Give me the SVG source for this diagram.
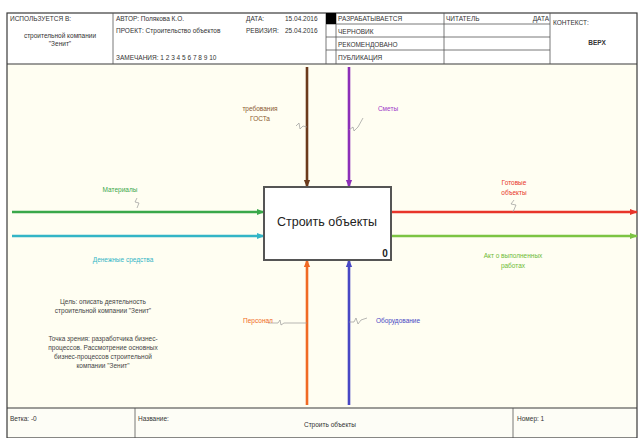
<svg xmlns="http://www.w3.org/2000/svg" width="638" height="438" viewBox="0 0 638 438">
  <style>
    .frame { fill: none; stroke: #3a3a3a; stroke-width: 1.2; }
    .thin { stroke: #555; stroke-width: 0.8; }
    .hdr { font-family: "Liberation Sans", Arial, sans-serif; font-size: 6.5px; fill: #333; }
    .lbl { font-family: "Liberation Sans", Arial, sans-serif; font-size: 6.5px; }
    .note { font-family: "Liberation Sans", Arial, sans-serif; font-size: 6.5px; fill: #444; text-anchor: middle; }
    .arr { fill: none; stroke-width: 2.6; }
    .tick { fill: none; stroke: #999; stroke-width: 0.7; }
  </style>
  <defs>
    <marker id="ah" viewBox="0 0 10 10" refX="9" refY="5" markerWidth="3" markerHeight="3" orient="auto" markerUnits="strokeWidth">
      <path d="M0,1 L10,5 L0,9 z" fill="context-stroke"/>
    </marker>
  </defs>

  <rect width="638" height="438" fill="#ffffff"/>
  <!-- drawing field -->
  <rect x="7" y="64" width="630" height="344" fill="#fffef2"/>
  <rect x="7" y="408" width="630" height="30" fill="#fdfdf6"/>

  <!-- title block -->
  <g id="header">
    <rect class="frame" x="7" y="13" width="630" height="425"/>
    <line class="frame" x1="7" y1="64" x2="637" y2="64"/>
    <line class="thin" x1="113" y1="13" x2="113" y2="64"/>
    <line class="thin" x1="326" y1="13" x2="326" y2="64"/>
    <line class="thin" x1="336" y1="13" x2="336" y2="64"/>
    <line class="thin" x1="444" y1="13" x2="444" y2="64"/>
    <line class="thin" x1="550" y1="13" x2="550" y2="64"/>
    <line class="thin" x1="326" y1="24" x2="550" y2="24"/>
    <line class="thin" x1="326" y1="37" x2="550" y2="37"/>
    <line class="thin" x1="326" y1="50" x2="550" y2="50"/>
    <rect x="326" y="13" width="10" height="11" fill="#000"/>

    <text class="hdr" x="10" y="21">ИСПОЛЬЗУЕТСЯ В:</text>
    <text class="hdr" x="60" y="38" text-anchor="middle">строительной компании</text>
    <text class="hdr" x="60" y="46" text-anchor="middle">"Зенит"</text>

    <text class="hdr" x="116" y="21">АВТОР: Полякова К.О.</text>
    <text class="hdr" x="246" y="21">ДАТА:</text>
    <text class="hdr" x="285" y="21">15.04.2016</text>
    <text class="hdr" x="116" y="33">ПРОЕКТ:   Строительство объектов</text>
    <text class="hdr" x="246" y="33">РЕВИЗИЯ:</text>
    <text class="hdr" x="285" y="33">25.04.2016</text>
    <text class="hdr" x="116" y="60">ЗАМЕЧАНИЯ:  1 2 3 4 5 6 7 8 9 10</text>

    <text class="hdr" x="338" y="21">РАЗРАБАТЫВАЕТСЯ</text>
    <text class="hdr" x="338" y="34">ЧЕРНОВИК</text>
    <text class="hdr" x="338" y="47">РЕКОМЕНДОВАНО</text>
    <text class="hdr" x="338" y="60">ПУБЛИКАЦИЯ</text>
    <text class="hdr" x="446" y="21">ЧИТАТЕЛЬ</text>
    <text class="hdr" x="549" y="21" text-anchor="end">ДАТА</text>

    <text class="hdr" x="553" y="25" font-size="7.5">КОНТЕКСТ:</text>
    <text class="hdr" x="597" y="45" text-anchor="middle" font-weight="bold" font-size="8">ВЕРХ</text>
  </g>

  <!-- footer -->
  <g id="footer">
    <line class="frame" x1="7" y1="408" x2="637" y2="408"/>
    <line class="thin" x1="135" y1="408" x2="135" y2="438"/>
    <line class="thin" x1="513" y1="408" x2="513" y2="438"/>
    <text class="hdr" x="10" y="421">Ветка: -0</text>
    <text class="hdr" x="138" y="421">Название:</text>
    <text class="hdr" x="330" y="427" text-anchor="middle">Строить объекты</text>
    <text class="hdr" x="517" y="421">Номер: 1</text>
  </g>

  <!-- arrows -->
  <g id="connectors">
    <line class="arr" x1="12" y1="212" x2="264" y2="212" stroke="#3aa84a" marker-end="url(#ah)"/>
    <line class="arr" x1="12" y1="236" x2="264" y2="236" stroke="#33b5c6" marker-end="url(#ah)"/>
    <line class="arr" x1="391" y1="212" x2="637" y2="212" stroke="#e8352a" marker-end="url(#ah)"/>
    <line class="arr" x1="391" y1="236" x2="637" y2="236" stroke="#7cc443" marker-end="url(#ah)"/>
    <line class="arr" x1="307" y1="67" x2="307" y2="187" stroke="#6b3a1c" marker-end="url(#ah)"/>
    <line class="arr" x1="349" y1="67" x2="349" y2="187" stroke="#8c2fb8" marker-end="url(#ah)"/>
    <line class="arr" x1="307" y1="405" x2="307" y2="260" stroke="#f06a24" marker-end="url(#ah)"/>
    <line class="arr" x1="349" y1="405" x2="349" y2="260" stroke="#4848c4" marker-end="url(#ah)"/>

    <!-- label ticks -->
    <path class="tick" d="M137,198 l-2,4 l4,1 l-2,5"/>
    <path class="tick" d="M296,126 l3,-3 l1,6 l3,-3 l4,1"/>
    <path class="tick" d="M349,130 l4,-3 l1,4 l4,-4 l5,-9"/>
    <path class="tick" d="M514,200 l-3,4 l5,1 l-3,7"/>
    <path class="tick" d="M268,323 l10,0 l2,-3 l1,5 l3,-2 l23,0"/>
    <path class="tick" d="M349,322 l5,0 l2,-4 l2,6 l3,-4 l6,-2"/>
  </g>

  <!-- activity box -->
  <g id="node-A0">
    <rect x="264" y="187" width="127" height="73" fill="#ffffff" stroke="#555" stroke-width="2"/>
    <text x="327" y="226" font-family="Liberation Sans, Arial, sans-serif" font-size="12.5" fill="#222" text-anchor="middle">Строить объекты</text>
    <text x="385" y="257" font-family="Liberation Sans, Arial, sans-serif" font-size="10" font-weight="bold" fill="#222" text-anchor="middle">0</text>
  </g>

  <!-- arrow labels -->
  <g id="labels">
    <text class="lbl" x="120" y="192" fill="#3aa84a" text-anchor="middle">Материалы</text>
    <text class="lbl" x="123" y="262" fill="#33b5c6" text-anchor="middle">Денежные средства</text>
    <text class="lbl" x="514" y="185" fill="#e8352a" text-anchor="middle">Готовые</text>
    <text class="lbl" x="514" y="195" fill="#e8352a" text-anchor="middle">объекты</text>
    <text class="lbl" x="513" y="258" fill="#6dbb35" text-anchor="middle">Акт о выполненных</text>
    <text class="lbl" x="513" y="268" fill="#6dbb35" text-anchor="middle">работах</text>
    <text class="lbl" x="260" y="111" fill="#8a5a30" text-anchor="middle">требования</text>
    <text class="lbl" x="260" y="121" fill="#8a5a30" text-anchor="middle">ГОСТа</text>
    <text class="lbl" x="388" y="111" fill="#a03ac8" text-anchor="middle">Сметы</text>
    <text class="lbl" x="258" y="323" fill="#f06a24" text-anchor="middle">Персонал</text>
    <text class="lbl" x="398" y="323" fill="#4848c4" text-anchor="middle">Оборудование</text>
  </g>

  <!-- notes -->
  <g id="notes">
    <text class="note" x="103" y="304">Цель: описать деятельность</text>
    <text class="note" x="103" y="313">строительной компании "Зенит"</text>
    <text class="note" x="103" y="341">Точка зрения: разработчика бизнес-</text>
    <text class="note" x="103" y="350">процессов. Рассмотрение основных</text>
    <text class="note" x="103" y="359">бизнес-процессов строительной</text>
    <text class="note" x="103" y="368">компании "Зенит"</text>
  </g>
</svg>
